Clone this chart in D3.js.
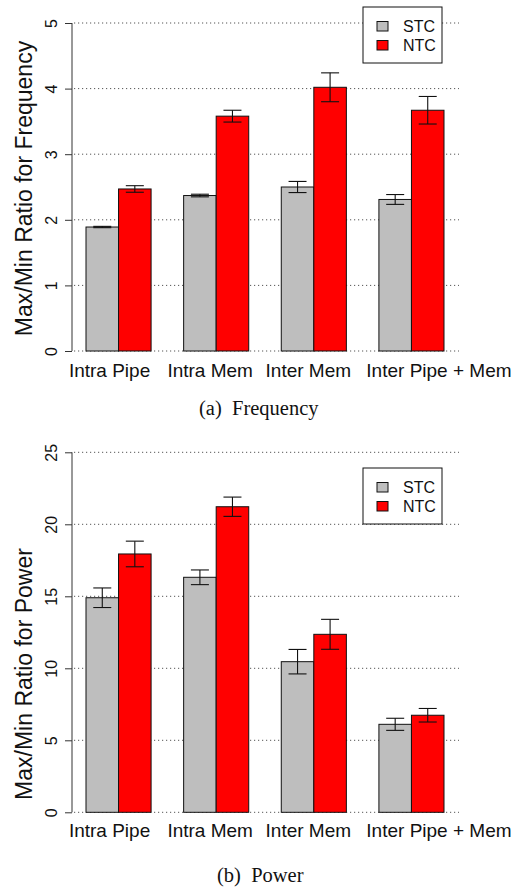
<!DOCTYPE html>
<html>
<head>
<meta charset="utf-8">
<script src="https://cdn.jsdelivr.net/npm/d3@7"></script>
<style>
  html, body { margin: 0; padding: 0; background: #fff; }
  svg { display: block; }
</style>
</head>
<body>
<svg id="chart" width="526" height="888"></svg>
<script>
// ---- data ----
const categories = ["Intra Pipe", "Intra Mem", "Inter Mem", "Inter Pipe + Mem"];
const seriesNames = ["STC", "NTC"];
const seriesColors = ["#bebebe", "#ff0000"];

const freqSTC = [1.89, 2.37, 2.50, 2.31];
const freqSTCErr = [0.01, 0.02, 0.085, 0.075];
const freqNTC = [2.47, 3.58, 4.02, 3.67];
const freqNTCErr = [0.05, 0.09, 0.22, 0.21];
const freqTicks = [0, 1, 2, 3, 4, 5];

const powSTC = [14.9, 16.32, 10.46, 6.11];
const powSTCErr = [0.68, 0.51, 0.85, 0.42];
const powNTC = [17.94, 21.22, 12.36, 6.74];
const powNTCErr = [0.89, 0.67, 1.04, 0.47];
const powTicks = [0, 5, 10, 15, 20, 25];

// layout: horizontal nudges of category labels (px) relative to group centre
const labelNudge = [-9, -6, -5.5, 27.5];

const svg = d3.select("#chart");

// x positions in "bar units": group g, series s -> left edge 1 + 3g + s
const x = d3.scaleLinear().domain([1, 12]).range([86, 444]);

function panel(opts) {
  const y = d3.scaleLinear().domain(opts.domain).range(opts.range);
  const g = svg.append("g");
  const axisX = 72, gridX0 = 74, gridX1 = 459;

  // grid
  g.selectAll("line.grid").data(opts.ticks).join("line")
    .attr("x1", gridX0).attr("x2", gridX1)
    .attr("y1", d => y(d)).attr("y2", d => y(d))
    .attr("stroke", "#555").attr("stroke-width", 1)
    .attr("stroke-dasharray", "1.2,2.8");

  // y axis
  const axis = d3.axisLeft(y).tickValues(opts.ticks).tickSize(7).tickPadding(0).tickFormat(d3.format("d"));
  const ag = g.append("g").attr("transform", `translate(${axisX},0)`).call(axis);
  ag.select(".domain").attr("stroke", "#333").attr("d", `M0,${y(opts.ticks[0])}V${y(opts.ticks[opts.ticks.length-1])}`);
  ag.selectAll(".tick line").attr("stroke", "#333");
  ag.selectAll(".tick text")
    .attr("font-family", "Liberation Sans, Arial, sans-serif")
    .attr("font-size", 16).attr("fill", "#111")
    .attr("text-anchor", "middle")
    .attr("dy", null)
    .attr("x", null)
    .attr("transform", "translate(-15.5,0) rotate(-90)");

  // bars
  const rows = [];
  categories.forEach((c, i) => {
    rows.push({g: i, s: 0, v: opts.stc[i], e: opts.stcErr[i]});
    rows.push({g: i, s: 1, v: opts.ntc[i], e: opts.ntcErr[i]});
  });
  g.selectAll("rect.bar").data(rows).join("rect")
    .attr("x", d => x(1 + 3 * d.g + d.s))
    .attr("width", d => x(2 + 3 * d.g + d.s) - x(1 + 3 * d.g + d.s))
    .attr("y", d => y(d.v))
    .attr("height", d => y(0) - y(d.v))
    .attr("fill", d => seriesColors[d.s])
    .attr("stroke", "#111").attr("stroke-width", 1);

  // error bars
  const cx = d => (x(1 + 3 * d.g + d.s) + x(2 + 3 * d.g + d.s)) / 2;
  const eb = g.selectAll("g.err").data(rows).join("g").attr("stroke", "#111").attr("stroke-width", 1.1);
  eb.append("line").attr("x1", cx).attr("x2", cx).attr("y1", d => y(d.v - d.e)).attr("y2", d => y(d.v + d.e));
  eb.append("line").attr("x1", d => cx(d) - 9).attr("x2", d => cx(d) + 9).attr("y1", d => y(d.v - d.e)).attr("y2", d => y(d.v - d.e));
  eb.append("line").attr("x1", d => cx(d) - 9).attr("x2", d => cx(d) + 9).attr("y1", d => y(d.v + d.e)).attr("y2", d => y(d.v + d.e));

  // category labels
  g.selectAll("text.cat").data(categories).join("text")
    .attr("x", (d, i) => x(2 + 3 * i) + labelNudge[i])
    .attr("y", y(0) + opts.catOffset)
    .attr("text-anchor", "middle")
    .attr("font-family", "Liberation Sans, Arial, sans-serif")
    .attr("font-size", 19).attr("fill", "#111")
    .text(d => d);

  // y title
  g.append("text")
    .attr("transform", `translate(32,${opts.titleY}) rotate(-90)`)
    .attr("text-anchor", "middle")
    .attr("font-family", "Liberation Sans, Arial, sans-serif")
    .attr("font-size", 23).attr("fill", "#111")
    .text(opts.ylabel);

  // legend
  const lg = g.append("g").attr("transform", `translate(363,${opts.legendY})`);
  lg.append("rect").attr("width", 79).attr("height", 56).attr("fill", "#fff").attr("stroke", "#111").attr("stroke-width", 1);
  seriesNames.forEach((n, i) => {
    lg.append("rect").attr("x", 14).attr("y", 14.5 + 19 * i).attr("width", 11).attr("height", 9.5)
      .attr("fill", seriesColors[i]).attr("stroke", "#111").attr("stroke-width", 1);
    lg.append("text").attr("x", 40).attr("y", 25 + 18.5 * i)
      .attr("font-family", "Liberation Sans, Arial, sans-serif")
      .attr("font-size", 16).attr("fill", "#111").text(n);
  });

  // caption
  g.append("text")
    .attr("x", opts.capX).attr("y", opts.capY)
    .attr("font-family", "Liberation Serif, Times New Roman, serif")
    .attr("font-size", 20.5).attr("fill", "#111")
    .attr("xml:space", "preserve")
    .text(opts.caption);
}

panel({
  domain: [0, 5], range: [351, 23], ticks: freqTicks,
  stc: freqSTC, stcErr: freqSTCErr, ntc: freqNTC, ntcErr: freqNTCErr,
  ylabel: "Max/Min Ratio for Frequency", titleY: 188.5, legendY: 7,
  catOffset: 26, caption: "(a)  Frequency", capX: 199, capY: 415
});

panel({
  domain: [0, 25], range: [812.3, 452.3], ticks: powTicks,
  stc: powSTC, stcErr: powSTCErr, ntc: powNTC, ntcErr: powNTCErr,
  ylabel: "Max/Min Ratio for Power", titleY: 674, legendY: 468,
  catOffset: 24.5, caption: "(b)  Power", capX: 217, capY: 882
});
</script>
</body>
</html>
